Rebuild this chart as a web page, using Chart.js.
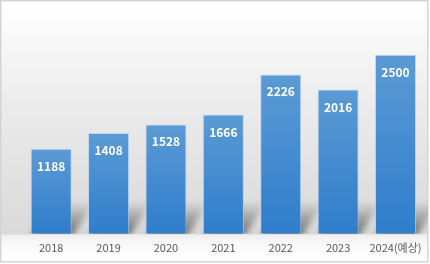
<!DOCTYPE html>
<html><head><meta charset="utf-8">
<script src="https://cdn.jsdelivr.net/npm/chart.js@4"></script>
<style>html,body{margin:0;padding:0;background:#fff}#w{width:430px;height:264px}</style>
</head><body><div id="w"><canvas id="c" width="430" height="264"></canvas></div>
<script>
const categories = ['2018','2019','2020','2021','2022','2023','2024(예상)'];
const values = [1188,1408,1528,1666,2226,2016,2500];
const yMax = 3000;

const bgPlugin = {
  id:'bg',
  beforeDraw(chart){
    const c = chart.ctx, W = chart.width, H = chart.height;
    const base = chart.scales.y.getPixelForValue(0);
    c.save();
    c.fillStyle = '#fff'; c.fillRect(0,0,W,H);
    let g = c.createLinearGradient(0,1,0,base+1);
    g.addColorStop(0,'#ffffff');
    g.addColorStop(0.45,'#ebebeb');
    g.addColorStop(1,'#d9d9d9');
    c.fillStyle = g; c.fillRect(1,1,427,base);
    g = c.createLinearGradient(0,base+1,0,261);
    g.addColorStop(0,'#eeeeee');
    g.addColorStop(0.3,'#f8f8f8');
    g.addColorStop(1,'#ffffff');
    c.fillStyle = g; c.fillRect(1,base+1,427,261-base-1);
    c.strokeStyle = '#d4d4d4'; c.lineWidth = 1.5;
    c.strokeRect(0.75,0.75,427,261);
    c.restore();
  },
  beforeDatasetsDraw(chart){
    const c = chart.ctx;
    const base = chart.scales.y.getPixelForValue(0);
    const meta = chart.getDatasetMeta(0);
    c.save();
    c.beginPath(); c.rect(1,1,427,base-1); c.clip();
    c.filter = 'blur(3px)';
    meta.data.forEach(b=>{
      const L = b.x - b.width/2, R = b.x + b.width/2;
      const h = 32, dx = 22;
      const g = c.createLinearGradient(0,base,0,base-h);
      g.addColorStop(0,'rgba(70,70,70,0.7)');
      g.addColorStop(0.6,'rgba(70,70,70,0.3)');
      g.addColorStop(1,'rgba(70,70,70,0)');
      c.fillStyle = g;
      c.beginPath();
      c.moveTo(L,base+4); c.lineTo(R,base+4); c.lineTo(R+dx,base-h); c.lineTo(L+dx,base-h); c.closePath();
      c.fill();
    });
    c.restore();
  },
  afterDatasetsDraw(chart){
    const c = chart.ctx;
    const meta = chart.getDatasetMeta(0);
    c.save();
    c.fillStyle = '#ffffff';
    c.font = 'bold 12px "Noto Sans CJK KR", "Noto Sans", sans-serif';
    c.textAlign = 'center'; c.textBaseline = 'middle';
    meta.data.forEach((b,i)=>{
      c.fillText(String(values[i]), b.x, b.y + 17.5);
    });
    c.restore();
  }
};

new Chart(document.getElementById('c'), {
  type:'bar',
  data:{
    labels: categories,
    datasets:[{
      data: values,
      backgroundColor(ctx){
        const chart = ctx.chart;
        if(!chart.chartArea) return '#4a8fd4';
        const ys = chart.scales.y;
        const top = ys.getPixelForValue(values[ctx.dataIndex]);
        const bot = ys.getPixelForValue(0);
        const g = chart.ctx.createLinearGradient(0,top,0,bot);
        g.addColorStop(0,'#5b9bd5');
        g.addColorStop(1,'#2f7dcb');
        return g;
      },
      borderColor:'rgba(170,205,240,0.7)',
      borderWidth:1,
      barPercentage:0.9,
      categoryPercentage:0.795
    }]
  },
  options:{
    responsive:false,
    animation:false,
    events:[],
    layout:{padding:{top:19,left:22.5,right:5.8,bottom:3}},
    plugins:{legend:{display:false},tooltip:{enabled:false}},
    scales:{
      y:{display:false,min:0,max:yMax},
      x:{
        grid:{display:false,drawTicks:false},
        border:{display:false},
        ticks:{color:'#595959',padding:7,font:{family:'"Noto Sans CJK KR", "Noto Sans", sans-serif',size:11},maxRotation:0,autoSkip:false}
      }
    }
  },
  plugins:[bgPlugin]
});
</script></body></html>
